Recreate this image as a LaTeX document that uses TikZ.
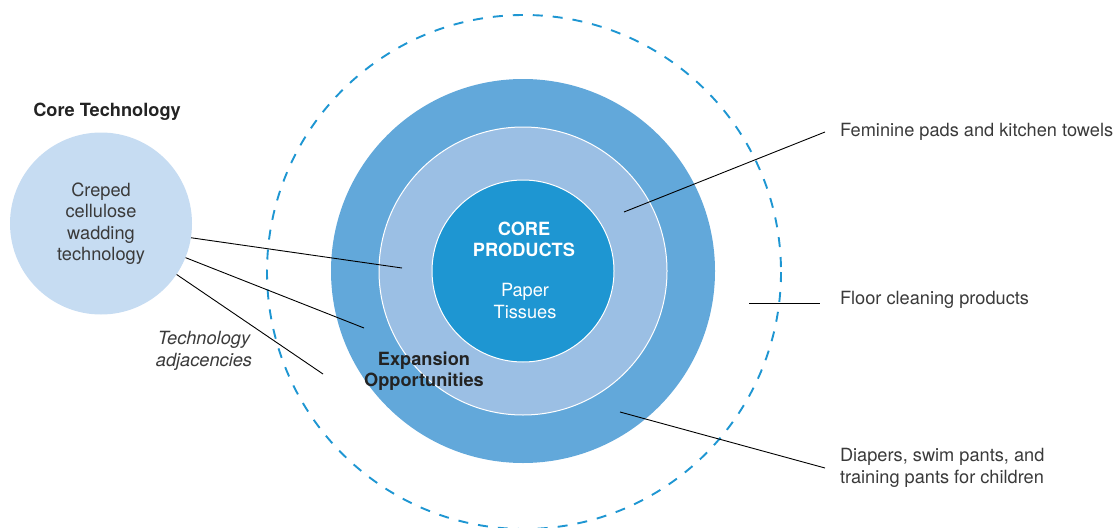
\documentclass[tikz,border=0pt]{standalone}
\usepackage{fontspec}
\setmainfont{TeX Gyre Heros}
\definecolor{ringdark}{RGB}{98,168,218}
\definecolor{ringmid}{RGB}{155,191,228}
\definecolor{ringcore}{RGB}{30,150,210}
\definecolor{techfill}{RGB}{198,220,242}
\definecolor{txt}{RGB}{58,58,58}
\definecolor{txtdark}{RGB}{35,35,35}
\begin{document}
\begin{tikzpicture}[x=1pt, y=-1pt,
		every node/.style={font=\fontsize{18.2}{21.5}\selectfont, text=txt, align=center},
		heading/.style={font=\fontsize{18.2}{21.5}\selectfont\bfseries, text=txtdark},
		disc/.style={circle, inner sep=0pt, minimum size=#1},
		lbl/.style={anchor=west, align=left, inner sep=0pt, outer xsep=15pt},
		lead/.style={black, line width=0.9pt}]
			\useasboundingbox (0,0) rectangle (1115,527);
			\draw[ringcore, line width=1.9pt, dash pattern=on 10pt off 10pt] (524,272) circle (257);
			\node[disc=384, fill=ringdark] (R_2) at (523,271) {};
			\node[disc=288, fill=ringmid, draw=white, line width=1pt] (R_1) at (523,271) {};
			\node[disc=182, fill=ringcore, draw=white, line width=1pt] (R_0) at (523,271) {};
			\node[disc=182, fill=techfill] (T) at (101,223.5) {Creped\\cellulose\\wadding\\technology};
			\node[heading] (T_head) at (107,111.5) {Core Technology};
			\node[font=\fontsize{18.2}{21.5}\selectfont\itshape] (T_adj) at (204,351) {Technology\\adjacencies};
			\node[heading] (R_2_txt) at (424,371) {Expansion\\Opportunities};
			\node[heading, text=white] (R_0_head) at (524,239.5) {CORE\\PRODUCTS};
			\node[text=white] (R_0_txt) at (525,301) {Paper\\Tissues};
			\node[lbl] (L_fem) at (825,132) {Feminine pads and kitchen towels};
			\node[lbl] (L_floor) at (825,300) {Floor cleaning products};
			\node[lbl] (L_diap) at (825,468) {Diapers, swim pants, and\\training pants for children};
			\coordinate (A_1) at (402,268);
			\coordinate (A_2) at (364,328);
			\coordinate (A_3) at (323,374);
			\coordinate (A_fem) at (624,212);
			\coordinate (A_floor) at (749,303);
			\coordinate (A_diap) at (620,412);
			\draw[lead] (T.-9) -- (A_1);
			\draw[lead] (T.-22) -- (A_2);
			\draw[lead] (T.-34) -- (A_3);
			\draw[lead] (A_fem) -- (L_fem.west);
			\draw[lead] (A_floor) -- ([xshift=-5pt]A_floor -| L_floor.west);
			\draw[lead] (A_diap) -- (L_diap.west);
		\end{tikzpicture}
\end{document}
